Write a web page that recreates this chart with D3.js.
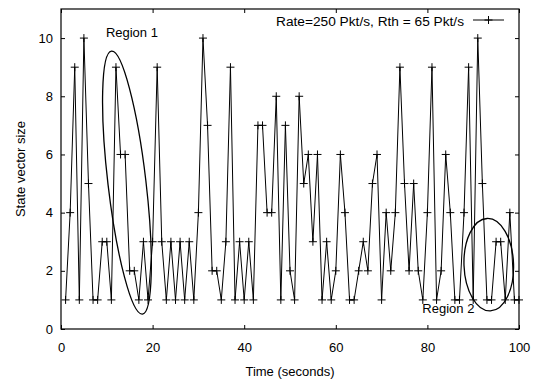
<!DOCTYPE html>
<html>
<head>
<meta charset="utf-8">
<script src="https://cdn.jsdelivr.net/npm/d3@7"></script>
<style>
  html, body { margin: 0; padding: 0; background: #fff; }
  svg { display: block; font-family: "Liberation Sans", Arial, sans-serif; }
</style>
</head>
<body>
<div id="chart"></div>
<script>
// samples taken once per second, t = 1 .. 100
const times = d3.range(1, 101);
const stateSize = [
  1, 4, 9, 1, 10, 5, 1, 1, 3, 3,
  1, 9, 6, 6, 2, 2, 1, 3, 1, 3,
  9, 3, 1, 3, 1, 3, 1, 3, 1, 4,
  10, 7, 2, 2, 1, 3, 9, 1, 3, 1,
  3, 1, 7, 7, 4, 4, 8, 1, 7, 2,
  1, 8, 5, 6, 3, 6, 1, 3, 1, 2,
  6, 4, 1, 1, 2, 3, 2, 5, 6, 1,
  4, 2, 4, 9, 5, 2, 5, 2, 1, 4,
  9, 1, 2, 6, 4, 1, 1, 4, 9, 1,
  10, 5, 1, 1, 3, 3, 1, 4, 1, 1
];
const xTicks = [0, 20, 40, 60, 80, 100];
const yTicks = [0, 2, 4, 6, 8, 10];
const seriesLabel = "Rate=250 Pkt/s, Rth = 65 Pkt/s";
const xTitle = "Time (seconds)";
const yTitle = "State vector size";

// annotations (ellipses in data units)
const regions = [
  { label: "Region 1", cx: 14.4, cy: 5.03, rx: 4.15, ry: 4.55, angle: -6.7, lx: 9.8, ly: 10.05 },
  { label: "Region 2", cx: 93.4, cy: 2.21, rx: 5.41, ry: 1.59, angle: -2, lx: 78.9, ly: 0.55 }
];

const width = 536, height = 379;
const margin = { top: 9, right: 17, bottom: 50, left: 61 };

const svg = d3.select("#chart").append("svg")
  .attr("width", width)
  .attr("height", height);

const x = d3.scaleLinear().domain([0, 100]).range([margin.left, width - margin.right]);
const y = d3.scaleLinear().domain([0, 11]).range([height - margin.bottom, margin.top]);

const tickLen = 4;

// axes, ticks pointing inward, mirrored on top/right
const gx = svg.append("g")
  .attr("transform", `translate(0,${y(0)})`)
  .call(d3.axisBottom(x).tickValues(xTicks).tickSizeInner(-tickLen).tickSizeOuter(0).tickPadding(14));
const gxTop = svg.append("g")
  .attr("transform", `translate(0,${y(11)})`)
  .call(d3.axisTop(x).tickValues(xTicks).tickSizeInner(-tickLen).tickSizeOuter(0).tickFormat(""));
const gy = svg.append("g")
  .attr("transform", `translate(${x(0)},0)`)
  .call(d3.axisLeft(y).tickValues(yTicks).tickSizeInner(-tickLen).tickSizeOuter(0).tickPadding(8));
const gyRight = svg.append("g")
  .attr("transform", `translate(${x(100)},0)`)
  .call(d3.axisRight(y).tickValues(yTicks).tickSizeInner(-tickLen).tickSizeOuter(0).tickFormat(""));

[gx, gxTop, gy, gyRight].forEach(g => {
  g.select(".domain").remove();
  g.selectAll("line").attr("stroke", "#000");
  g.selectAll("text").attr("fill", "#000").style("font-size", "13px").attr("font-family", null);
});

// border
svg.append("rect")
  .attr("x", x(0)).attr("y", y(11))
  .attr("width", x(100) - x(0)).attr("height", y(0) - y(11))
  .attr("fill", "none").attr("stroke", "#000").attr("stroke-width", 1.2);

// data line
const pts = times.map((t, i) => ({ t: t, v: stateSize[i] }));
const line = d3.line().x(d => x(d.t)).y(d => y(d.v));

svg.append("path")
  .datum(pts)
  .attr("d", line)
  .attr("fill", "none")
  .attr("stroke", "#000")
  .attr("stroke-width", 1);

const cross = "M-4,0H4M0,-4V4";
svg.append("g").selectAll("path")
  .data(pts)
  .enter().append("path")
  .attr("transform", d => `translate(${x(d.t)},${y(d.v)})`)
  .attr("d", cross)
  .attr("stroke", "#000")
  .attr("stroke-width", 1);

// region ellipses + labels
regions.forEach(r => {
  svg.append("ellipse")
    .attr("transform", `translate(${x(r.cx)},${y(r.cy)}) rotate(${r.angle})`)
    .attr("rx", x(r.rx) - x(0))
    .attr("ry", y(0) - y(r.ry))
    .attr("fill", "none")
    .attr("stroke", "#000")
    .attr("stroke-width", 1.3);
  svg.append("text")
    .attr("x", x(r.lx))
    .attr("y", y(r.ly))
    .style("font-size", "13px")
    .text(r.label);
});

// legend
const legY = 20;
const legX1 = x(100) - 46, legX2 = x(100) - 15;
svg.append("text")
  .attr("x", legX1 - 9)
  .attr("y", legY + 6)
  .attr("text-anchor", "end")
  .style("font-size", "13.7px")
  .text(seriesLabel);
svg.append("line")
  .attr("x1", legX1).attr("x2", legX2)
  .attr("y1", legY).attr("y2", legY)
  .attr("stroke", "#000");
svg.append("path")
  .attr("transform", `translate(${(legX1 + legX2) / 2},${legY})`)
  .attr("d", cross)
  .attr("stroke", "#000");

// axis titles
svg.append("text")
  .attr("x", (x(0) + x(100)) / 2)
  .attr("y", 376)
  .attr("text-anchor", "middle")
  .style("font-size", "13px")
  .text(xTitle);

svg.append("text")
  .attr("transform", `translate(25,${(y(0) + y(11)) / 2}) rotate(-90)`)
  .attr("text-anchor", "middle")
  .style("font-size", "13px")
  .text(yTitle);
</script>
</body>
</html>
